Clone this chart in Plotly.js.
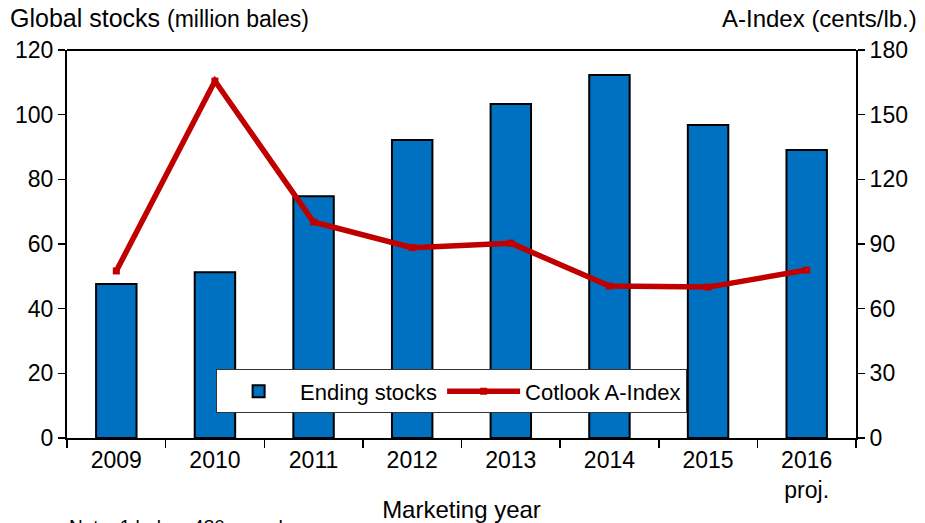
<!DOCTYPE html>
<html><head><meta charset="utf-8">
<script src="https://cdn.plot.ly/plotly-3.0.1.min.js"></script>
<style>html,body{margin:0;padding:0;background:#fff}#chart{width:925px;height:523px}</style>
</head><body><div id="chart"></div>
<script>
const categories = ['2009','2010','2011','2012','2013','2014','2015','2016<br>proj.'];
const endingStocks = [47.6, 51.3, 74.8, 92.2, 103.3, 112.3, 96.8, 89.1];
const aIndex = [77.5, 165.6, 100.2, 88.3, 90.4, 70.5, 70.0, 77.9];
const leftTicks = [0,20,40,60,80,100,120];
const rightTicks = [0,30,60,90,120,150,180];

const FAM = 'Liberation Sans, Arial, sans-serif';
const font = {family: FAM, size: 23, color: '#000'};

const traces = [
  {type:'bar', name:'Ending stocks', x:categories, y:endingStocks,
   marker:{color:'#0070C0', line:{color:'#000', width:2}}, yaxis:'y'},
  {type:'scatter', mode:'lines+markers', name:'Cotlook A-Index', x:categories, y:aIndex,
   line:{color:'#C00000', width:5.5}, marker:{color:'#C00000', symbol:'square', size:7}, yaxis:'y2'}
];

const layout = {
  width:925, height:523,
  margin:{l:67, r:69, t:50, b:85},
  paper_bgcolor:'#fff', plot_bgcolor:'#fff',
  font: font,
  showlegend:true,
  bargap:0.59,
  legend:{orientation:'h', x:0.189, y:0.12, xanchor:'left', yanchor:'middle',
    bordercolor:'#333', borderwidth:1, bgcolor:'#fff', font:{family:FAM, size:22, color:'#000'},
    traceorder:'normal', itemwidth:73},
  xaxis:{type:'category', showline:true, linecolor:'#000', linewidth:2, mirror:false,
    ticks:'outside', ticklen:8, tickcolor:'#000', tickwidth:1.5, tickson:'boundaries',
    tickfont:font, showgrid:false, zeroline:false,
    title:{text:'Marketing year', font:{family:FAM, size:24, color:'#000'}, standoff:2}},
  yaxis:{range:[0,120], tickvals:leftTicks, ticks:'outside', ticklen:7, tickcolor:'#000', tickwidth:1.5,
    showline:true, linecolor:'#000', linewidth:2, showgrid:false, zeroline:false, tickfont:font},
  yaxis2:{range:[0,180], tickvals:rightTicks, overlaying:'y', side:'right', ticks:'outside', ticklen:7,
    tickcolor:'#000', tickwidth:1.5, showline:true, linecolor:'#000', linewidth:2, showgrid:false,
    zeroline:false, tickfont:font},
  shapes:[
    {type:'line', xref:'paper', yref:'paper', x0:0, x1:1, y0:1, y1:1, line:{color:'#000', width:2}}
  ],
  annotations:[
    {xref:'paper', yref:'paper', x:-0.075, y:1.0, yshift:32, xanchor:'left', yanchor:'middle', showarrow:false,
     text:'Global stocks <span style="font-size:23px">(million bales)</span>', font:{family:FAM, size:25, color:'#000'}},
    {xref:'paper', yref:'paper', x:1.08, y:1.0, yshift:32, xanchor:'right', yanchor:'middle', showarrow:false,
     text:'A-Index (cents/lb.)', font:{family:FAM, size:24, color:'#000'}},
    {xref:'paper', yref:'paper', x:0.0, y:0, yshift:-76, xanchor:'left', yanchor:'top', showarrow:false,
     text:'Note: 1 bale = 480 pounds', font:{family:FAM, size:19, color:'#000'}}
  ]
};

Plotly.newPlot('chart', traces, layout, {displayModeBar:false, staticPlot:true});
</script>
</body></html>
